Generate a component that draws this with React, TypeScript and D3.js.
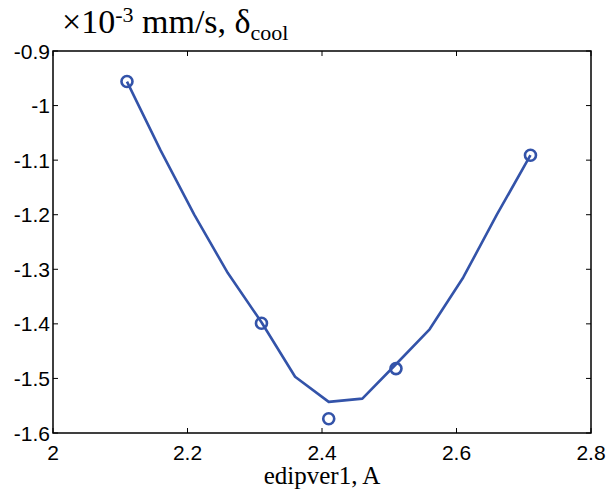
import React from "react";
import * as d3 from "d3";

const pointX = [2.11, 2.31, 2.41, 2.51, 2.71];
const pointY = [-0.956, -1.399, -1.574, -1.482, -1.091];

const curveX = [2.11, 2.16, 2.21, 2.26, 2.31, 2.36, 2.41, 2.46, 2.51, 2.56, 2.61, 2.66, 2.71];
const curveY = [-0.956, -1.082, -1.2, -1.307, -1.397, -1.497, -1.543, -1.537, -1.474, -1.41, -1.315, -1.2, -1.091];

const xTicks = [2, 2.2, 2.4, 2.6, 2.8];
const yTicks = [-0.9, -1, -1.1, -1.2, -1.3, -1.4, -1.5, -1.6];

const W = 607;
const H = 492;
const left = 53, right = 591, top = 51, bottom = 433;
const color = "#3353a9";

export default function App() {
  const x = d3.scaleLinear().domain([2, 2.8]).range([left, right]);
  const y = d3.scaleLinear().domain([-1.6, -0.9]).range([bottom, top]);
  const line = d3
    .line<number>()
    .x((_, i) => x(curveX[i]))
    .y((d) => y(d));
  const tl = 5;
  const fmt = (v: number) => String(v);
  return (
    <svg width={W} height={H} style={{ position: "absolute", left: 0, top: 0, background: "#fff" }}>
      <rect x={0} y={0} width={W} height={H} fill="#fff" />
      {xTicks.map((t) => (
        <g key={"xt" + t}>
          <line x1={x(t)} x2={x(t)} y1={bottom} y2={bottom - tl} stroke="#000" strokeWidth={1} />
          <line x1={x(t)} x2={x(t)} y1={top} y2={top + tl} stroke="#000" strokeWidth={1} />
          <text
            x={x(t)}
            y={bottom + 27}
            textAnchor="middle"
            fontFamily="Liberation Sans, Arial, sans-serif"
            fontSize={21}
            fill="#000"
          >
            {fmt(t)}
          </text>
        </g>
      ))}
      {yTicks.map((t) => (
        <g key={"yt" + t}>
          <line x1={left} x2={left + tl} y1={y(t)} y2={y(t)} stroke="#000" strokeWidth={1} />
          <line x1={right} x2={right - tl} y1={y(t)} y2={y(t)} stroke="#000" strokeWidth={1} />
          <text
            x={left - 3}
            y={y(t) + 7.5}
            textAnchor="end"
            fontFamily="Liberation Sans, Arial, sans-serif"
            fontSize={21}
            fill="#000"
          >
            {fmt(t)}
          </text>
        </g>
      ))}
      <rect
        x={left}
        y={top}
        width={right - left}
        height={bottom - top}
        fill="none"
        stroke="#000"
        strokeWidth={1.5}
      />
      <path d={line(curveY) || ""} fill="none" stroke={color} strokeWidth={2.6} strokeLinejoin="round" />
      {pointX.map((px, i) => (
        <circle key={"p" + i} cx={x(px)} cy={y(pointY[i])} r={5.5} fill="none" stroke={color} strokeWidth={2.6} />
      ))}
      <text x={62} y={33} fontFamily="Liberation Serif, Times New Roman, serif" fontSize={34} fill="#000">
        ×10
        <tspan dy={-11} fontSize={22}>-3</tspan>
        <tspan dy={11}> mm/s, δ</tspan>
        <tspan dy={7} fontSize={22}>cool</tspan>
      </text>
      <text
        x={(left + right) / 2}
        y={484}
        textAnchor="middle"
        fontFamily="Liberation Serif, Times New Roman, serif"
        fontSize={25}
        fill="#000"
      >
        edipver1, A
      </text>
    </svg>
  );
}
